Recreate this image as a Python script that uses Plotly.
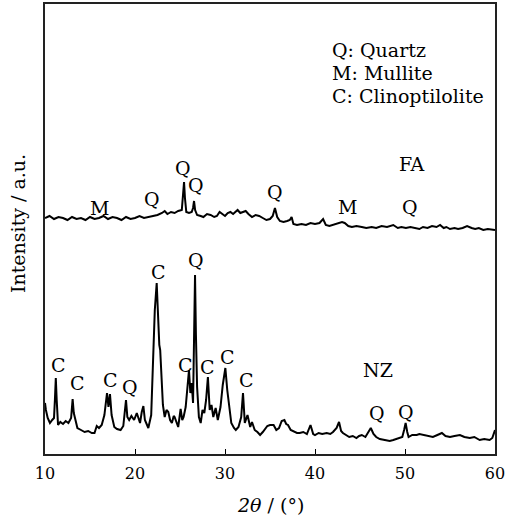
import plotly.graph_objects as go

# ---------------- data ----------------
fa_theta = [10.0, 10.5, 11.0, 11.5, 12.0, 12.5, 13.0, 13.5, 14.0, 14.5, 15.0, 15.5, 16.0, 16.5,
            17.0, 17.5, 18.0, 18.5, 19.0, 19.5, 20.0, 20.5, 21.0, 21.5, 22.0, 22.5, 23.0, 23.3,
            23.6, 24.0, 24.4, 24.8, 25.2, 25.35, 25.45, 25.55, 25.7, 26.0, 26.3, 26.45, 26.56,
            26.68, 26.9, 27.3, 27.6, 28.0, 28.4, 28.8, 29.1, 29.4, 29.7, 30.0, 30.3, 30.6, 30.9,
            31.2, 31.4, 31.7, 32.0, 32.3, 32.6, 33.0, 33.4, 33.8, 34.2, 34.6, 35.0, 35.3, 35.55,
            35.8, 36.1, 36.5, 36.9, 37.2, 37.4, 37.6, 38.0, 38.5, 39.0, 39.5, 40.0, 40.5, 40.9,
            41.2, 41.6, 42.0, 42.5, 43.0, 43.3, 43.7, 44.1, 44.6, 45.2, 45.7, 46.3, 46.8, 47.4,
            48.0, 48.7, 49.2, 49.6, 50.1, 50.6, 51.1, 51.6, 52.0, 52.5, 53.0, 53.5, 53.9, 54.3,
            54.6, 55.0, 55.5, 55.9, 56.4, 56.9, 57.4, 57.8, 58.2, 58.7, 59.2, 59.7, 60.0]
fa_intensity = [236, 238, 235, 237, 236, 234, 237, 235, 236, 234, 237, 235, 236, 238,
                235, 237, 236, 234, 237, 235, 236, 238, 236, 237, 238, 239, 241, 243,
                240, 242, 241, 243, 244, 259, 272, 256, 242, 241, 242, 246, 253,
                244, 239, 238, 237, 240, 239, 237, 238, 242, 240, 238, 241, 242, 240,
                243, 244, 241, 242, 243, 240, 237, 239, 238, 236, 234, 235, 238, 246,
                237, 233, 232, 233, 234, 237, 230, 229, 230, 229, 231, 230, 231, 235,
                229, 228, 229, 230, 232, 231, 228, 227, 228, 227, 226, 227, 226, 228,
                227, 229, 226, 227, 226, 227, 226, 225, 227, 226, 228, 227, 229, 226,
                227, 225, 226, 225, 226, 228, 226, 225, 226, 224, 225, 224, 224]

nz_theta = [10.0, 10.1, 10.3, 10.55, 10.8, 11.0, 11.1, 11.2, 11.3, 11.45, 11.7, 12.0, 12.3, 12.6,
            12.9, 13.07, 13.2, 13.35, 13.6, 14.0, 14.4, 14.8, 15.2, 15.5, 15.75, 16.0, 16.3, 16.6,
            16.89, 17.05, 17.22, 17.4, 17.7, 18.0, 18.4, 18.7, 19.0, 19.15, 19.35, 19.6, 19.9, 20.2,
            20.4, 20.56, 20.75, 20.93, 21.1, 21.3, 21.48, 21.8, 22.0, 22.2, 22.41, 22.55, 22.7, 22.8,
            22.95, 23.1, 23.3, 23.5, 23.7, 23.9, 24.1, 24.3, 24.4, 24.6, 24.8, 25.07, 25.25, 25.4,
            25.63, 25.85, 26.0, 26.15, 26.3, 26.45, 26.57, 26.67, 26.77, 26.9, 27.1, 27.3, 27.5, 27.7,
            27.9, 28.1, 28.3, 28.5, 28.7, 28.96, 29.2, 29.5, 29.75, 30.04, 30.25, 30.4, 30.7, 31.0,
            31.2, 31.5, 31.8, 32.0, 32.2, 32.5, 32.8, 33.0, 33.3, 33.6, 33.9, 34.2, 34.4, 34.7,
            35.0, 35.4, 35.7, 36.0, 36.3, 36.6, 36.8, 37.0, 37.3, 37.6, 38.0, 38.3, 38.7, 39.1,
            39.5, 39.8, 40.0, 40.4, 40.8, 41.3, 41.7, 42.0, 42.4, 42.67, 42.9, 43.1, 43.5, 43.8,
            44.2, 44.6, 44.9, 45.2, 45.6, 45.9, 46.2, 46.5, 46.8, 47.2, 47.6, 48.0, 48.3, 48.7,
            49.0, 49.3, 49.7, 49.9, 50.07, 50.25, 50.4, 50.8, 51.3, 51.6, 52.0, 52.5, 53.1, 53.6,
            54.1, 54.5, 55.0, 55.5, 56.1, 56.6, 57.2, 57.7, 58.3, 58.8, 59.4, 59.7, 59.9, 60.0]
nz_intensity = [51, 44, 36, 31, 34, 36, 54, 76, 54, 29, 32, 30, 33, 31,
                36, 55, 41, 36, 26, 24, 22, 23, 21, 21, 28, 26, 29, 39,
                61, 47, 60, 39, 27, 25, 24, 28, 54, 37, 34, 38, 34, 41,
                34, 31, 42, 48, 34, 29, 26, 39, 84, 144, 171, 139, 109, 104,
                69, 49, 37, 44, 42, 34, 31, 38, 37, 31, 27, 45, 34, 37,
                47, 69, 84, 61, 71, 51, 124, 179, 119, 67, 37, 31, 44, 41,
                54, 77, 44, 49, 37, 46, 34, 47, 69, 86, 64, 51, 31, 26,
                24, 27, 37, 61, 31, 39, 27, 32, 24, 22, 19, 22, 24, 28,
                29, 29, 24, 26, 33, 34, 30, 29, 24, 23, 21, 21, 22, 20,
                29, 20, 19, 21, 20, 21, 20, 22, 26, 32, 23, 21, 19, 17,
                18, 16, 18, 19, 17, 21, 26, 20, 17, 15, 14, 13, 13, 14,
                15, 16, 17, 24, 31, 22, 17, 19, 19, 20, 19, 18, 17, 19,
                21, 18, 17, 18, 19, 17, 16, 17, 14, 15, 14, 16, 22, 24]

# phase labels: (text, 2theta, intensity)
fa_labels = ["M", "Q", "Q", "Q", "Q", "M", "Q"]
fa_label_x = [16.1, 21.9, 25.3, 26.8, 35.6, 43.6, 50.6]
fa_label_y = [246, 255, 286, 269, 262, 247, 247]

nz_labels = ["C", "C", "C", "Q", "C", "C", "Q", "C", "C", "C", "Q", "Q"]
nz_label_x = [11.5, 13.6, 17.3, 19.4, 22.6, 25.6, 26.8, 28.0, 30.3, 32.4, 46.9, 50.1]
nz_label_y = [89, 71, 74, 67, 182, 89, 194, 87, 97, 74, 41, 42]

sample_names = ["FA", "NZ"]
sample_x = [50.8, 47.0]
sample_y = [290, 84]

key_lines = ["Q: Quartz", "M: Mullite", "C: Clinoptilolite"]
key_x = 41.7
key_y = [404, 381, 358]

x_ticks = [10, 20, 30, 40, 50, 60]

# ---------------- figure ----------------
FONT = "DejaVu Serif"
LBL = 19
fig = go.Figure()
fig.add_trace(go.Scatter(x=fa_theta, y=fa_intensity, mode="lines",
                         line=dict(color="black", width=2), showlegend=False))
fig.add_trace(go.Scatter(x=nz_theta, y=nz_intensity, mode="lines",
                         line=dict(color="black", width=2), showlegend=False))

ann = []
for t, x, y in zip(fa_labels + nz_labels, fa_label_x + nz_label_x, fa_label_y + nz_label_y):
    ann.append(dict(x=x, y=y, text=t, showarrow=False, xref="x", yref="y",
                    font=dict(family=FONT, size=LBL, color="black")))
for t, x, y in zip(sample_names, sample_x, sample_y):
    ann.append(dict(x=x, y=y, text=t, showarrow=False, xref="x", yref="y",
                    font=dict(family=FONT, size=LBL, color="black")))
for t, y in zip(key_lines, key_y):
    ann.append(dict(x=key_x, y=y, text=t, showarrow=False, xref="x", yref="y",
                    xanchor="left", font=dict(family=FONT, size=LBL, color="black")))
# axis titles
ann.append(dict(x=0.5, y=-0.113, xref="paper", yref="paper", yanchor="middle",
                text="<i>2θ</i> / (°)", showarrow=False,
                font=dict(family=FONT, size=LBL, color="black")))
ann.append(dict(x=-0.06, y=0.511, xref="paper", yref="paper", xanchor="center",
                yanchor="middle", text="Intensity / a.u.", textangle=-90, showarrow=False,
                font=dict(family=FONT, size=LBL, color="black")))

fig.update_layout(
    width=508, height=516,
    margin=dict(l=45, r=13, t=4, b=62),
    paper_bgcolor="white", plot_bgcolor="white",
    font=dict(family=FONT, size=LBL, color="black"),
    annotations=ann,
    xaxis=dict(range=[10, 60], tickvals=x_ticks, ticks="inside", ticklen=5,
               tickcolor="black", showline=True, mirror=True, linecolor="#222",
               linewidth=1.5, showgrid=False, zeroline=False, automargin=False,
               ticklabelstandoff=4, tickfont=dict(family=FONT, size=16)),
    yaxis=dict(range=[0, 450], showticklabels=False, ticks="", showline=True, mirror=True,
               linecolor="#222", linewidth=1.5, showgrid=False, zeroline=False,
               automargin=False),
)
fig.write_html("out.html", config={"displayModeBar": False},
               post_script="document.body.style.margin='0px';")
